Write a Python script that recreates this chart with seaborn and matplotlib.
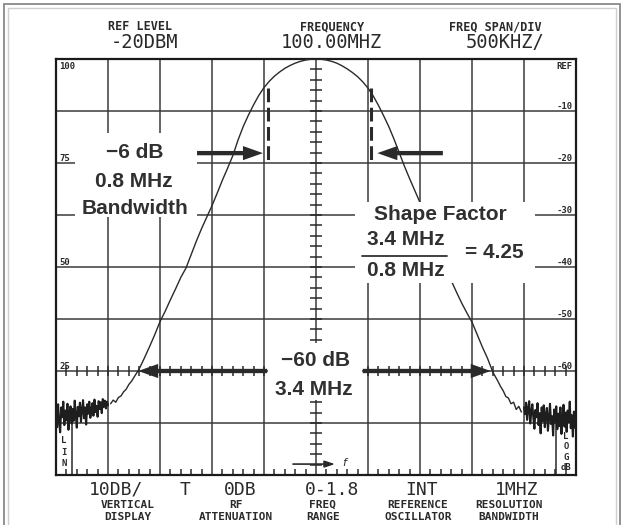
import numpy as np
import matplotlib
matplotlib.use("Agg")
import matplotlib.pyplot as plt
import seaborn as sns
from matplotlib.patches import Rectangle
from matplotlib.ticker import MultipleLocator

# ---------------- instrument settings ----------------
center_mhz = 100.0
span_per_div_mhz = 0.5
db_per_div = 10
n_xdiv = 10
n_ydiv = 8

# ---------------- trace data ----------------
# main response: offset from centre in divisions, level in dB below REF
main_offset_div = [-3.95, -3.9, -3.85, -3.8, -3.75, -3.7, -3.65, -3.6, -3.55, -3.5,
                   -3.4, -3.3, -3.2, -3.1, -3.0, -2.9, -2.8, -2.7, -2.6, -2.5,
                   -2.4, -2.3, -2.2, -2.1, -2.0, -1.9, -1.8, -1.7, -1.6, -1.5,
                   -1.4, -1.3, -1.2, -1.1, -1.0, -0.9, -0.8, -0.7, -0.6, -0.5,
                   -0.4, -0.3, -0.2, -0.1, 0.0,
                   0.1, 0.2, 0.3, 0.4, 0.5, 0.6, 0.7, 0.8, 0.9, 1.0,
                   1.1, 1.2, 1.3, 1.4, 1.5, 1.6, 1.7, 1.8, 1.9, 2.0,
                   2.1, 2.2, 2.3, 2.4, 2.5, 2.6, 2.7, 2.8, 2.9, 3.0,
                   3.1, 3.2, 3.3, 3.4, 3.5, 3.55, 3.6, 3.65, 3.7, 3.75,
                   3.8, 3.85, 3.9, 3.95]
main_db = [-66.3, -65.6, -66.0, -65.1, -64.8, -64.0, -63.5, -62.6, -62.0, -61.2,
           -59.6, -57.5, -55.3, -53.0, -50.5, -48.5, -46.3, -44.2, -42.0, -40.2,
           -37.6, -35.0, -32.6, -30.4, -28.2, -25.8, -23.3, -21.0, -18.6, -15.6,
           -13.0, -10.8, -8.8, -7.0, -5.5, -4.3, -3.3, -2.5, -1.8, -1.25,
           -0.8, -0.45, -0.2, -0.05, 0.0,
           -0.05, -0.2, -0.45, -0.8, -1.3, -1.9, -2.6, -3.4, -4.4, -5.6,
           -7.1, -8.9, -10.9, -13.0, -15.4, -18.0, -20.6, -23.0, -25.3, -27.6,
           -30.0, -32.5, -35.0, -37.6, -40.0, -42.6, -44.8, -46.9, -48.8, -50.6,
           -53.0, -55.4, -57.6, -60.2, -62.0, -63.0, -63.8, -64.9, -65.2, -66.3,
           -66.0, -67.4, -66.8, -67.9]
# noise floor, left edge (-5 .. -4 div) and right edge (+4 .. +5 div)
left_noise_db = [-67.2, -70.8, -66.4, -69.9, -71.8, -67.0, -68.9, -65.9, -70.4, -67.6,
                 -69.5, -66.3, -71.3, -68.0, -66.8, -70.1, -67.3, -69.6, -65.7, -68.4,
                 -70.9, -66.9, -68.7, -66.1, -69.8, -67.5, -65.6, -69.1, -67.0, -70.3,
                 -66.4, -68.2, -65.9, -69.0, -67.4, -66.2, -68.6, -65.5, -67.9, -66.7,
                 -68.8, -65.8, -67.3, -66.0, -68.1, -65.4, -66.9, -65.7, -67.2, -65.9,
                 -66.6]
right_noise_db = [-67.0, -68.3, -66.1, -69.4, -67.2, -65.8, -70.1, -67.9, -66.4, -69.0,
                  -71.1, -67.5, -68.9, -66.2, -70.4, -68.1, -72.0, -67.0, -69.6, -66.6,
                  -70.8, -68.4, -67.1, -71.5, -69.0, -66.3, -70.2, -68.7, -72.4, -67.4,
                  -69.9, -66.8, -71.2, -68.2, -70.6, -67.0, -72.1, -69.3, -66.5, -70.7,
                  -68.0, -71.7, -67.6, -69.8, -65.9, -71.0, -68.5, -72.6, -67.8, -70.9,
                  -69.2]

# -6 dB and -60 dB marker positions (MHz) and levels
bw6_left, bw6_right, bw6_top, bw6_level = 99.54, 100.53, -5.5, -20
bw60_left, bw60_right, bw60_level = 98.29, 101.68, -60

# scale labels
lin_labels = ["100", "75", "50", "25"]
lin_label_db = [0, -20, -40, -60]
log_labels = ["REF", "-10", "-20", "-30", "-40", "-50", "-60"]
log_label_db = [0, -10, -20, -30, -40, -50, -60]

# header / footer readouts
header_titles = ["REF LEVEL", "FREQUENCY", "FREQ SPAN/DIV"]
header_values = ["-20DBM", "100.00MHZ", "500KHZ/"]
footer_values = ["10DB/", "T", "0DB", "0-1.8", "INT", "1MHZ"]
footer_titles = [("VERTICAL", "DISPLAY"), ("RF", "ATTENUATION"), ("FREQ", "RANGE"),
                 ("REFERENCE", "OSCILLATOR"), ("RESOLUTION", "BANDWIDTH")]

# ---------------- styling ----------------
sns.set_theme(style="white")
plt.rcParams['font.family'] = ['DejaVu Sans']
ink = '#2a2a2a'
plot_font = ['DejaVu Sans Mono', 'DejaVu Sans']
ann_font = ['Liberation Sans', 'DejaVu Sans']

W, H = 625, 525
fig = plt.figure(figsize=(W / 100, H / 100), dpi=100)
fig.patch.set_facecolor('white')
ax = fig.add_axes([56 / W, 50 / H, 520 / W, 416 / H])
ax.set_facecolor('white')

x0 = center_mhz - n_xdiv / 2 * span_per_div_mhz
x1 = center_mhz + n_xdiv / 2 * span_per_div_mhz
ax.set_xlim(x0, x1)
ax.set_ylim(-n_ydiv * db_per_div, 0)
ax.xaxis.set_major_locator(MultipleLocator(span_per_div_mhz))
ax.xaxis.set_minor_locator(MultipleLocator(span_per_div_mhz / 5))
ax.yaxis.set_major_locator(MultipleLocator(db_per_div))
ax.set_axisbelow(True)
ax.grid(True, which='major', color='#3a3a3a', lw=1.1)
ax.tick_params(which='major', length=0, labelbottom=False, labelleft=False)
ax.tick_params(which='minor', axis='x', bottom=True, top=False, direction='in',
               length=4, width=1.1, color=ink)
for s in ax.spines.values():
    s.set_linewidth(1.6)
    s.set_color('#1a1a1a')

# ---------------- trace ----------------
freq_main = center_mhz + np.array(main_offset_div) * span_per_div_mhz
freq_left = np.linspace(x0, center_mhz - 4 * span_per_div_mhz, len(left_noise_db))
freq_right = np.linspace(center_mhz + 4 * span_per_div_mhz, x1, len(right_noise_db))
sns.lineplot(x=freq_main, y=main_db, ax=ax, color=ink, lw=1.0, sort=False,
             estimator=None, zorder=3)
sns.lineplot(x=freq_left, y=left_noise_db, ax=ax, color='#1e1e1e', lw=1.5, sort=False,
             estimator=None, zorder=3)
sns.lineplot(x=freq_right, y=right_noise_db, ax=ax, color='#1e1e1e', lw=1.5, sort=False,
             estimator=None, zorder=3)

# ---------------- graticule decorations ----------------
yt = np.arange(-n_ydiv * db_per_div + 2, 0, 2)
ax.plot(np.full(len(yt), center_mhz), yt, ls='none', marker='_', ms=9, mew=1.1,
        color=ink, zorder=2)
xt = np.arange(x0 + 0.1, x1 - 0.05, 0.1)
ax.plot(xt, np.full(len(xt), -60.0), ls='none', marker='|', ms=7, mew=1.1,
        color=ink, zorder=2)
ax.vlines(x0 + 16 / 104, -80, -70, color=ink, lw=1.1, zorder=2)
ax.vlines(x1 - 20 / 104, -80, -70, color=ink, lw=1.1, zorder=2)

# white masks behind annotation blocks
for (mx, my, mw, mh) in [(97.683, -30.4, 1.173, 16.2),
                         (100.375, -43.1, 1.731, 15.6),
                         (99.538, -65.6, 0.904, 11.0)]:
    ax.add_patch(Rectangle((mx, my), mw, mh, fc='white', ec='none', zorder=4))

# -6 dB dashed markers
for bx in (bw6_left, bw6_right):
    ax.plot([bx, bx], [bw6_top, bw6_level], ls=(0, (4.5, 1.8)), lw=2.2,
            color=ink, zorder=3)


def arrow(tail, head):
    ax.annotate('', xy=head, xytext=tail, zorder=5,
                arrowprops=dict(arrowstyle='simple,head_length=1.2,head_width=0.85,tail_width=0.26',
                                mutation_scale=12, fc=ink, ec='none', lw=0,
                                shrinkA=0, shrinkB=0))


arrow((98.856, -18.1), (bw6_left - 0.05, -18.1))
arrow((101.22, -18.1), (bw6_right + 0.06, -18.1))
arrow((99.53, bw60_level), (bw60_left, bw60_level))
arrow((100.45, bw60_level), (bw60_right, bw60_level))

# annotation text
tk = dict(fontfamily=ann_font, fontweight='bold', fontsize=15, color='#303030',
          ha='center', va='center', zorder=6)
ax.text(98.26, -17.9, '\u22126 dB', **tk)
ax.text(98.25, -23.5, '0.8 MHz', **tk)
ax.text(98.26, -28.8, 'Bandwidth', **tk)
ax.text(101.20, -30.0, 'Shape Factor', **tk)
ax.text(100.865, -34.8, '3.4 MHz', **tk)
ax.text(100.865, -40.6, '0.8 MHz', **tk)
ax.text(101.71, -37.3, '= 4.25', **tk)
ax.plot([100.44, 101.26], [-37.9, -37.9], color='#303030', lw=1.3, zorder=6)
ax.text(100.0, -57.9, '\u221260 dB', **tk)
ax.text(99.98, -63.5, '3.4 MHz', **tk)

# scale labels inside the graticule
sk = dict(fontfamily=plot_font, fontweight='bold', fontsize=6.5, color=ink, zorder=6)
for lab, d in zip(lin_labels, lin_label_db):
    if d == 0:
        ax.text(x0 + 0.03, -0.5, lab, ha='left', va='top', **sk)
    else:
        ax.text(x0 + 0.03, d + 0.4, lab, ha='left', va='baseline', **sk)
for lab, d in zip(log_labels, log_label_db):
    if d == 0:
        ax.text(x1 - 0.03, -0.5, lab, ha='right', va='top', **sk)
    else:
        ax.text(x1 - 0.03, d + 0.4, lab, ha='right', va='baseline', **sk)
ax.text(x0 + 8 / 104, -75.6, 'L\nI\nN', ha='center', va='center', linespacing=1.4, **sk)
ax.text(x1 - 10 / 104, -75.6, 'L\nO\nG\ndB', ha='center', va='center', linespacing=1.2, **sk)

# +f sweep arrow
ax.annotate('', xy=(100.183, -77.9), xytext=(99.779, -77.9), zorder=5,
            arrowprops=dict(arrowstyle='-|>,head_length=0.6,head_width=0.2',
                            mutation_scale=10, lw=1.2, color=ink,
                            shrinkA=0, shrinkB=0))
ax.text(100.27, -77.6, 'f', ha='center', va='center', fontsize=8, style='italic',
        color=ink, zorder=6)

# ---------------- header / footer readouts ----------------
def ftext(px, py, s, size, weight='normal', **kw):
    fig.text(px / W, 1 - py / H, s, ha='center', va='center', fontsize=size,
             fontweight=weight, fontfamily=plot_font, color=ink, **kw)


for px, s in zip([140, 332, 495], header_titles):
    ftext(px, 27, s, 8.5, 'bold')
for px, s in zip([144, 331, 505], header_values):
    ftext(px, 42, s, 13.5)
for px, s in zip([116, 185, 240, 332, 422, 517], footer_values):
    ftext(px, 490, s, 13)
for px, (l1, l2) in zip([128, 236, 323, 418, 509], footer_titles):
    ftext(px, 505, l1, 8, 'bold')
    ftext(px, 517, l2, 8, 'bold')

# photo frame
fig.add_artist(Rectangle((4 / W, -0.05), 616 / W, 1.05 - 4 / H, transform=fig.transFigure,
                         fill=False, ec='#8a8a8a', lw=1.3))
fig.add_artist(Rectangle((8 / W, -0.05), 608 / W, 1.05 - 8 / H, transform=fig.transFigure,
                         fill=False, ec='#cfcfcf', lw=1.0))

fig.savefig('out.png', dpi=100, facecolor='white')
